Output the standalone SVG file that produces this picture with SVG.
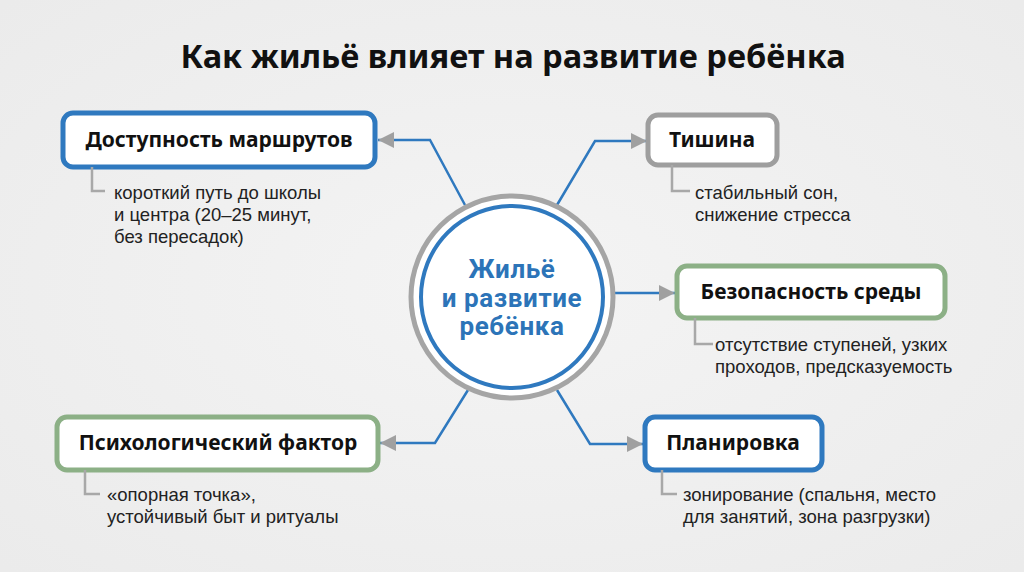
<svg xmlns="http://www.w3.org/2000/svg" width="1024" height="572" viewBox="0 0 1024 572">
<defs>
<style>
.title{font-family:"Noto Sans",Roboto,sans-serif;font-weight:700;font-size:32.6px;fill:#111;text-anchor:middle}
.hd{font-family:"Noto Sans",Roboto,sans-serif;font-weight:700;font-size:21px;fill:#111;text-anchor:middle}
.sub{font-family:"Liberation Sans",Arial,sans-serif;font-size:18.5px;fill:#222}
.ct{font-family:Roboto,"Noto Sans",sans-serif;font-weight:700;font-size:26px;letter-spacing:0.6px;fill:#2c74b8;text-anchor:middle}
.box{fill:#fff;stroke-width:5}
.blue{stroke:#2f79bf}
.gray{stroke:#9e9e9e}
.green{stroke:#8cb086}
.br{fill:none;stroke:#a8a8a8;stroke-width:2.5}
.con{fill:none;stroke:#2f79bf;stroke-width:2.5}
</style>
<marker id="ar" viewBox="0 0 10 10" refX="10" refY="5" markerWidth="16" markerHeight="16" markerUnits="userSpaceOnUse" orient="auto">
<path d="M0,0 L10,5 L0,10 z" fill="#a0a0a0"/>
</marker>
<radialGradient id="bg" cx="50%" cy="50%" r="70%">
<stop offset="0" stop-color="#f4f4f4"/>
<stop offset="1" stop-color="#ebebeb"/>
</radialGradient>
</defs>
<rect width="1024" height="572" fill="url(#bg)"/>
<text class="title" x="513" y="68">Как жильё влияет на развитие ребёнка</text>

<g id="connectors">
<path class="con" d="M465,205 L430,140 L378,140" marker-end="url(#ar)"/>
<path class="con" d="M557,205 L595,141 L647,141" marker-end="url(#ar)"/>
<path class="con" d="M614,293 L675,293" marker-end="url(#ar)"/>
<path class="con" d="M468,390 L435,443 L380,443" marker-end="url(#ar)"/>
<path class="con" d="M557,390 L590,444 L643,444" marker-end="url(#ar)"/>
</g>

<g id="center">
<circle cx="512" cy="297" r="101" fill="#fff" stroke="#a5a5a5" stroke-width="5"/>
<circle cx="512" cy="297" r="91" fill="#fff" stroke="#2f79bf" stroke-width="4"/>
<text class="ct" x="512" y="278">Жильё</text>
<text class="ct" x="512" y="307">и развитие</text>
<text class="ct" x="512" y="335">ребёнка</text>
</g>

<g id="n1">
<rect class="box blue" x="63" y="113" width="312" height="54" rx="10"/>
<text class="hd" x="219" y="147">Доступность маршрутов</text>
<path class="br" d="M92,167 L92,191 L105,191"/>
<text class="sub" x="114" y="199">короткий путь до школы</text>
<text class="sub" x="114" y="221">и центра (20–25 минут,</text>
<text class="sub" x="114" y="243">без пересадок)</text>
</g>

<g id="n2">
<rect class="box gray" x="648" y="115" width="129" height="50" rx="10"/>
<text class="hd" x="712" y="147">Тишина</text>
<path class="br" d="M672,165 L672,191 L690,191"/>
<text class="sub" x="695" y="199">стабильный сон,</text>
<text class="sub" x="695" y="221">снижение стресса</text>
</g>

<g id="n3">
<rect class="box green" x="677" y="266" width="268" height="52" rx="10"/>
<text class="hd" x="811" y="299">Безопасность среды</text>
<path class="br" d="M695,318 L695,344 L713,344"/>
<text class="sub" x="715" y="351">отсутствие ступеней, узких</text>
<text class="sub" x="715" y="373">проходов, предсказуемость</text>
</g>

<g id="n4">
<rect class="box green" x="57" y="417" width="321" height="53" rx="10"/>
<text class="hd" x="218" y="450">Психологический фактор</text>
<path class="br" d="M85,470 L85,494 L100,494"/>
<text class="sub" x="107" y="501">«опорная точка»,</text>
<text class="sub" x="107" y="523">устойчивый быт и ритуалы</text>
</g>

<g id="n5">
<rect class="box blue" x="645" y="417" width="177" height="53" rx="10"/>
<text class="hd" x="733" y="450">Планировка</text>
<path class="br" d="M662,470 L662,494 L677,494"/>
<text class="sub" x="683" y="501">зонирование (спальня, место</text>
<text class="sub" x="683" y="523">для занятий, зона разгрузки)</text>
</g>
</svg>
